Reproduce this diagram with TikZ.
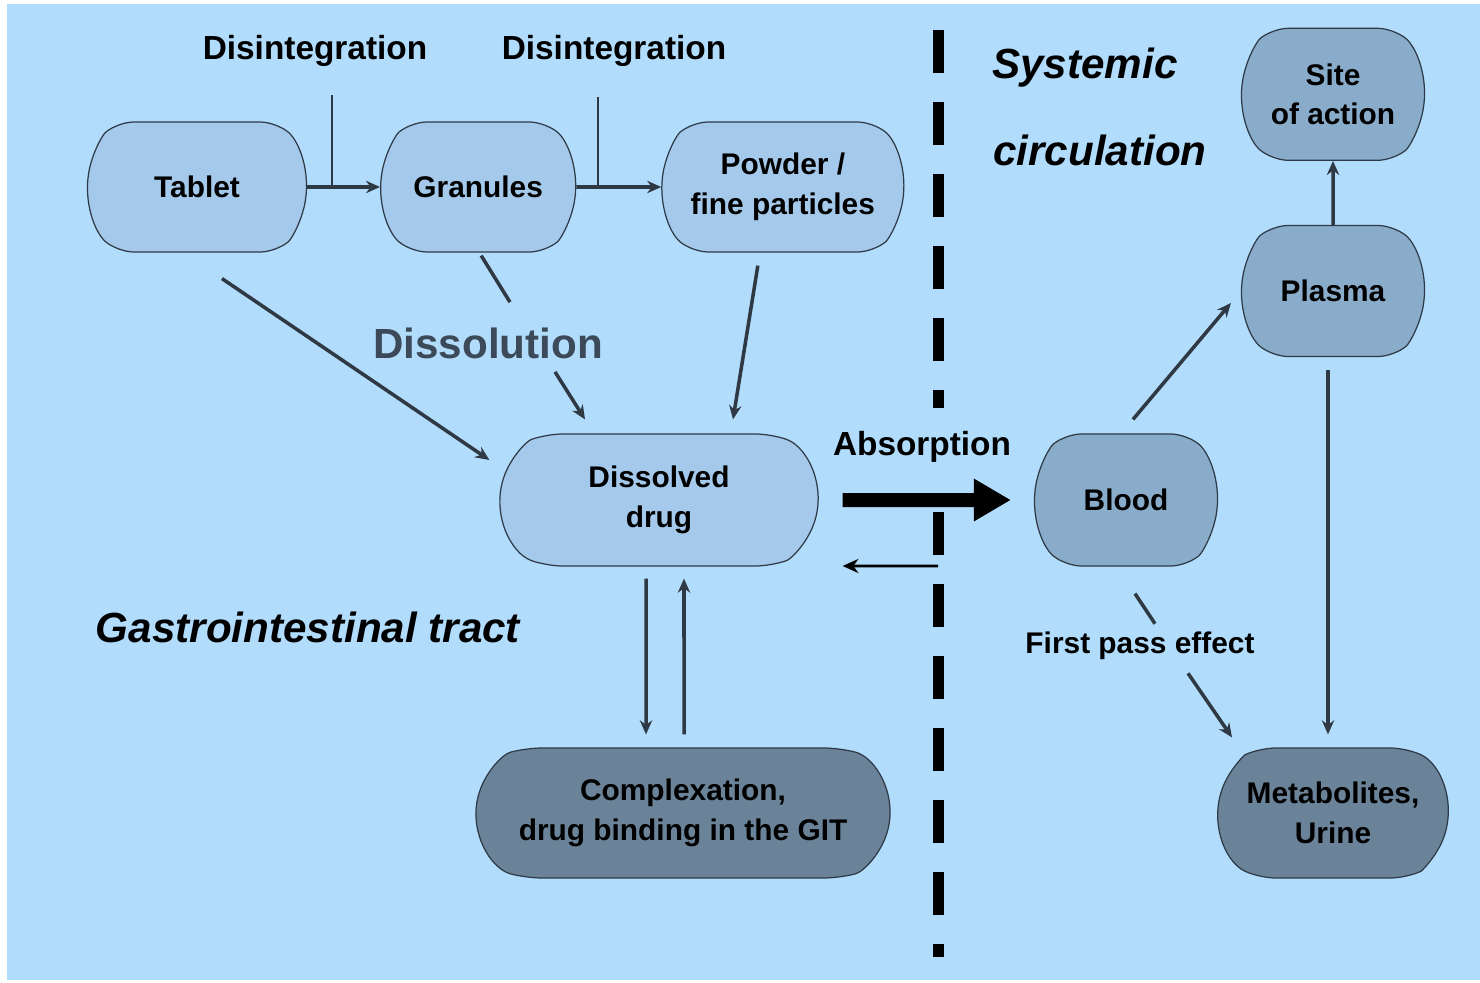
\documentclass[tikz,border=0pt]{standalone}
\usepackage{fontspec}
\setmainfont{Liberation Sans}
\usetikzlibrary{shapes.misc, arrows.meta, positioning}

\definecolor{bgblue}{HTML}{B1DCFC}
\definecolor{lightfill}{HTML}{A4C9EB}
\definecolor{midfill}{HTML}{8AACCB}
\definecolor{darkfill}{HTML}{6B8399}
\definecolor{edgecol}{HTML}{2E3A46}
\definecolor{arrowcol}{HTML}{2F3944}
\definecolor{dissolcol}{HTML}{3B4958}

\tikzset{
  stage/.style={rounded rectangle, rounded rectangle arc length=100, rounded corners=9pt,
    draw=edgecol, line width=0.7pt, align=center, inner sep=0pt,
    font=\fontsize{17}{22.5}\selectfont\bfseries},
  lightstage/.style={stage, fill=lightfill},
  midstage/.style={stage, fill=midfill},
  darkstage/.style={stage, fill=darkfill},
  lbl/.style={inner sep=0pt, font=\fontsize{19}{23}\selectfont\bfseries},
  region/.style={inner sep=0pt, font=\fontsize{24}{28}\selectfont\bfseries\itshape},
  arr/.style={-{Stealth[length=8pt,width=7pt]}, line width=2pt, draw=arrowcol},
  link/.style={line width=2pt, draw=arrowcol},
  tick/.style={line width=0.8pt, draw=arrowcol}
}

\begin{document}
\begin{tikzpicture}[x=0.02cm, y=-0.02cm]
  \useasboundingbox (0,0) rectangle (1480,983);
  \fill[bgblue] (7,4) rectangle (1480,980);

  \node (tablet) [lightstage, minimum width=4.38cm, minimum height=2.6cm] at (197,187) {Tablet};
  \node (granules) [lightstage, minimum width=3.9cm, minimum height=2.6cm, right=1.46cm of tablet] {Granules};
  \node (powder) [lightstage, minimum width=4.84cm, minimum height=2.6cm, right=1.7cm of granules] {Powder /\\fine particles};
  \node (dissolved) [lightstage, rounded rectangle arc length=140, minimum width=6.36cm, minimum height=2.64cm] at (659,500) {Dissolved\\drug};
  \node (complex) [darkstage, rounded rectangle arc length=150, minimum width=8.28cm, minimum height=2.6cm] at (683,813) {Complexation,\\drug binding in the GIT};
  \node (blood) [midstage, minimum width=3.66cm, minimum height=2.64cm] at (1126,500) {Blood};
  \node (plasma) [midstage, minimum width=3.66cm, minimum height=2.62cm] at (1333,291) {Plasma};
  \node (site) [midstage, minimum width=3.66cm, minimum height=2.64cm, above=1.28cm of plasma] {Site\\of action};
  \node (metab) [darkstage, rounded rectangle arc length=130, minimum width=4.6cm, minimum height=2.6cm] at (1333,813) {Metabolites,\\Urine};

  \node (dis1) [lbl] at (315,51) {Disintegration};
  \node (dis2) [lbl] at (614,51) {Disintegration};
  \node (dissol) [lbl, text=dissolcol, font=\fontsize{24}{28}\selectfont\bfseries] at (488,343) {Dissolution};
  \node (absorb) [lbl] at (922,447) {Absorption};
  \node (fpe) [lbl, font=\fontsize{17}{21}\selectfont\bfseries] at (1140,646) {First pass effect};
  \node (git) [region] at (308,627) {Gastrointestinal tract};
  \node (sys) [region] at (1085,68) {Systemic};
  \node (circ) [region] at (1100,150) {circulation};

  \coordinate (tick1) at (332,95);
  \coordinate (tick2) at (598,97);
  \coordinate (back) at (938,566);

  % border between the two compartments
  \draw[line width=0.22cm, dash pattern=on 0.86cm off 0.58cm] (938,30) -- (938,408);
  \draw[line width=0.22cm, dash pattern=on 0.86cm off 0.58cm] (938,512) -- (938,957);

  \draw[arr] (tablet) -- (granules);
  \draw[arr] (granules) -- (powder);
  \draw[tick] (tick1) -- (tick1 |- tablet.east);
  \draw[tick] (tick2) -- (tick2 |- granules.east);

  \draw[arr] ([xshift=0.5cm, yshift=-0.52cm]tablet.south) -- ([xshift=-0.2cm, yshift=0.8cm]dissolved.west);
  \draw[link] ([xshift=0.06cm, yshift=-0.06cm]granules.south) -- ([xshift=0.44cm, yshift=0.5cm]dissol.north);
  \draw[arr] ([xshift=1.34cm, yshift=-0.26cm]dissol.south) -- ([xshift=-1.48cm, yshift=0.28cm]dissolved.north);
  \draw[arr] ([xshift=-0.5cm, yshift=-0.26cm]powder.south) -- ([xshift=1.48cm, yshift=0.28cm]dissolved.north);

  \draw[arr] ([xshift=-0.26cm, yshift=-0.24cm]dissolved.south) -- ([xshift=-0.74cm, yshift=0.26cm]complex.north);
  \draw[arr] ([xshift=0.02cm, yshift=0.26cm]complex.north) -- ([xshift=0.5cm, yshift=-0.24cm]dissolved.south);

  \draw[-{Triangle[length=0.74cm, width=0.8cm]}, line width=0.28cm, shorten <=0.48cm, shorten >=0.46cm] (dissolved) -- (blood);
  \draw[-{Stealth[length=9pt, width=8pt]}, line width=1.5pt] (back) -- ([xshift=0.48cm, yshift=-1.32cm]dissolved.east);

  \draw[arr] ([xshift=0.14cm, yshift=0.28cm]blood.north) -- ([xshift=-0.2cm, yshift=-0.24cm]plasma.west);
  \draw[arr] (plasma) -- (site);
  \draw[arr] ([xshift=-0.1cm, yshift=-0.26cm]plasma.south) -- ([xshift=-0.1cm, yshift=0.26cm]metab.north);

  \draw[link] ([xshift=0.18cm, yshift=-0.54cm]blood.south) -- ([xshift=0.3cm, yshift=0.16cm]fpe.north);
  \draw[arr] ([xshift=0.96cm, yshift=-0.26cm]fpe.south) -- ([xshift=-2.02cm, yshift=0.2cm]metab.north);
\end{tikzpicture}
\end{document}
